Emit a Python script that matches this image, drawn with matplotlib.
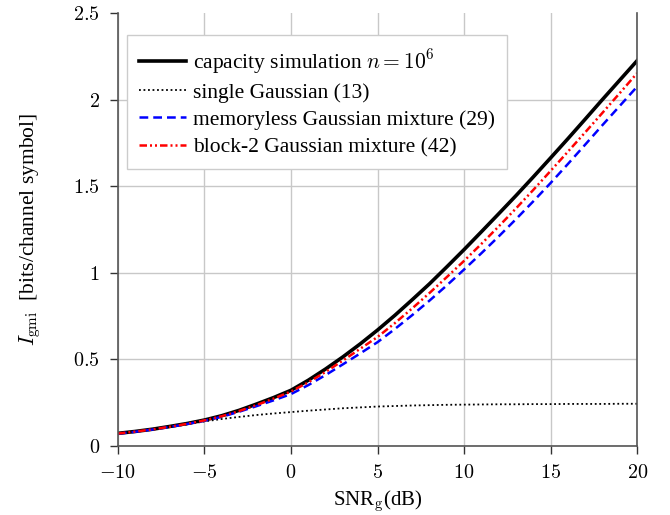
import numpy as np
import matplotlib
matplotlib.use('Agg')
import matplotlib.pyplot as plt

plt.rcParams['font.family'] = ['Liberation Serif', 'DejaVu Serif']
plt.rcParams['mathtext.fontset'] = 'cm'

snr = list(range(-10, 21))
capacity = [0.073, 0.084, 0.097, 0.113, 0.130, 0.150, 0.175, 0.206, 0.242, 0.280,
            0.322, 0.380, 0.445, 0.515, 0.590, 0.670, 0.755, 0.845, 0.937, 1.035,
            1.135, 1.238, 1.342, 1.447, 1.555, 1.665, 1.776, 1.889, 2.003, 2.115, 2.227]
single = [0.072, 0.082, 0.095, 0.109, 0.125, 0.142, 0.156, 0.168, 0.179, 0.188,
          0.196, 0.204, 0.211, 0.218, 0.223, 0.228, 0.231, 0.234, 0.236, 0.238,
          0.239, 0.240, 0.241, 0.241, 0.242, 0.242, 0.243, 0.243, 0.243, 0.244, 0.244]
memoryless = [0.071, 0.082, 0.095, 0.110, 0.127, 0.146, 0.169, 0.198, 0.230, 0.264,
              0.300, 0.352, 0.410, 0.472, 0.535, 0.600, 0.676, 0.756, 0.840, 0.928,
              1.020, 1.114, 1.211, 1.311, 1.414, 1.520, 1.630, 1.742, 1.855, 1.966, 2.077]
block2 = [0.072, 0.083, 0.096, 0.111, 0.128, 0.148, 0.172, 0.202, 0.236, 0.274,
          0.315, 0.368, 0.428, 0.494, 0.562, 0.630, 0.710, 0.795, 0.884, 0.976,
          1.070, 1.168, 1.269, 1.373, 1.480, 1.590, 1.701, 1.813, 1.926, 2.040, 2.155]

xticks = [-10, -5, 0, 5, 10, 15, 20]
yticks = [0, 0.5, 1, 1.5, 2, 2.5]
yticklabels = ['0', '0.5', '1', '1.5', '2', '2.5']

fig = plt.figure(figsize=(6.7, 5.15), dpi=100)
ax = fig.add_axes([0.176, 0.134, 0.775, 0.840])

ax.plot(snr, capacity, color='black', lw=2.6, label=r'capacity simulation $n=10^6$')
ax.plot(snr, single, color='black', lw=1.3, ls=(0, (1, 1.5)), label='single Gaussian (13)')
ax.plot(snr, memoryless, color='blue', lw=1.8, ls=(0, (3.5, 2)), label='memoryless Gaussian mixture (29)')
ax.plot(snr, block2, color='red', lw=1.8, ls=(0, (3, 1.2, 0.8, 1.2, 0.8, 1.2)), label='block-2 Gaussian mixture (42)')

ax.set_xlim(-10, 20)
ax.set_ylim(0, 2.5)
ax.set_xticks(xticks)
ax.set_xticklabels(['$%d$' % t for t in xticks])
ax.set_yticks(yticks)
ax.set_yticklabels(['$%s$' % s for s in yticklabels])
ax.tick_params(direction='out', length=6, width=1, colors='#333333', labelcolor='black', labelsize=14.5)
ax.tick_params(axis='x', pad=7)
ax.tick_params(axis='y', pad=7)
ax.grid(True, color='#c8c8c8', lw=1)
ax.yaxis.get_gridlines()[-1].set_visible(False)
ax.set_axisbelow(True)
for s in ax.spines.values():
    s.set_color('#555555')
    s.set_linewidth(1.2)
ax.spines['top'].set_visible(False)

ax.set_xlabel(r'SNR$_\mathrm{g}$(dB)', fontsize=15, labelpad=4)
ax.set_ylabel(r'$I_\mathrm{gmi}$  [bits/channel symbol]', fontsize=15.5, labelpad=22)

leg = ax.legend(loc='upper left', bbox_to_anchor=(0.018, 0.95), fontsize=15.5, fancybox=False,
                framealpha=1, edgecolor='#cccccc', handlelength=2.2, borderpad=0.55,
                labelspacing=0.33, handletextpad=0.3, borderaxespad=0)
leg.get_frame().set_linewidth(1)

fig.savefig('out.png', dpi=100)
